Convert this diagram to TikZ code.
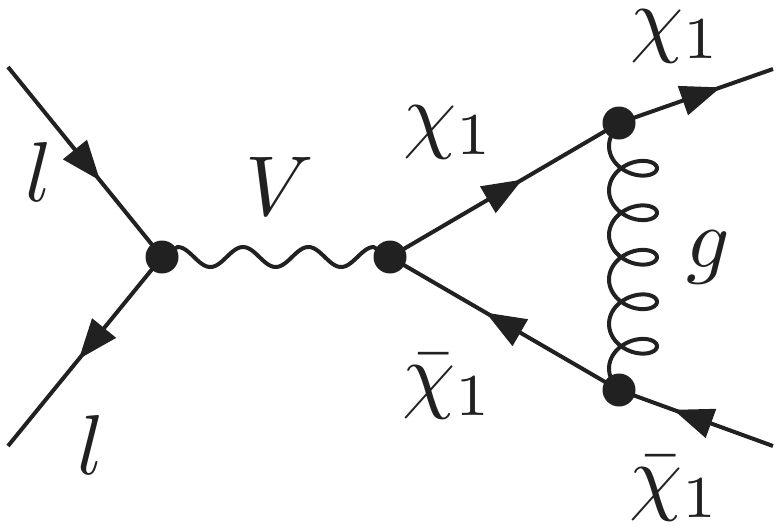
\documentclass[tikz,border=0pt]{standalone}
\usepackage{amsmath}
\usetikzlibrary{decorations.markings,arrows.meta}
\definecolor{ink}{gray}{0.13}
\tikzset{
  vtx/.style={circle,fill=ink,inner sep=0pt,minimum size=33pt},
  fermion/.style={line width=4pt,ink,postaction={decorate},decoration={markings,mark=at position #1 with {\arrow[ink]{Triangle[length=40pt,width=30pt]}}}},
  boson/.style={line width=4pt,ink,line join=round},
  lab/.style={inner sep=0pt,text=ink},
}
\newcommand{\largemath}[1]{\scalebox{8.5}{$#1$}}
\begin{document}
\begin{tikzpicture}[x=1pt,y=-1pt]
\useasboundingbox (0,0) rectangle (781,525);
\coordinate (a) at (8,67);
\coordinate (b) at (8,446);
\coordinate (c) at (773,69);
\coordinate (d) at (773,446);
\node[vtx] (v1) at (162,257) {};
\node[vtx] (v2) at (390,257) {};
\node[vtx] (v3) at (619,123) {};
\node[vtx] (v4) at (619,390) {};
\draw[fermion=0.598] (a) -- (v1.center);
\draw[fermion=0.54] (v1.center) -- (b);
\draw[fermion=0.578] (v2.center) -- (v3.center);
\draw[fermion=0.582] (v4.center) -- (v2.center);
\draw[fermion=0.66] (v3.center) -- (c);
\draw[fermion=0.647] (d) -- (v4.center);
\draw[boson] (v1.center) -- plot[domain=177.5:373.5,samples=120,smooth] (\x,{257-10*cos((\x-243)*5.5046)}) -- (v2.center);
\draw[boson] (v3.center) -- plot[domain=-20:1820,samples=240,smooth] ({633-24*cos(\x)},{146+0.12361*\x+17*sin(\x)}) -- (v4.center);
\node[lab] (t1) at (39,172) {\largemath{l}};
\node[lab] (t2) at (91,445) {\largemath{l}};
\node[lab] (t3) at (280,186) {\largemath{V}};
\node[lab] (t4) at (449,132) {\largemath{\chi_1}};
\node[lab] (t5) at (448,387) {\largemath{\bar{\chi}_1}};
\node[lab] (t6) at (676,36) {\largemath{\chi_1}};
\node[lab] (t7) at (675,489) {\largemath{\bar{\chi}_1}};
\node[lab] (t8) at (708,257) {\largemath{g}};
\end{tikzpicture}
\end{document}
